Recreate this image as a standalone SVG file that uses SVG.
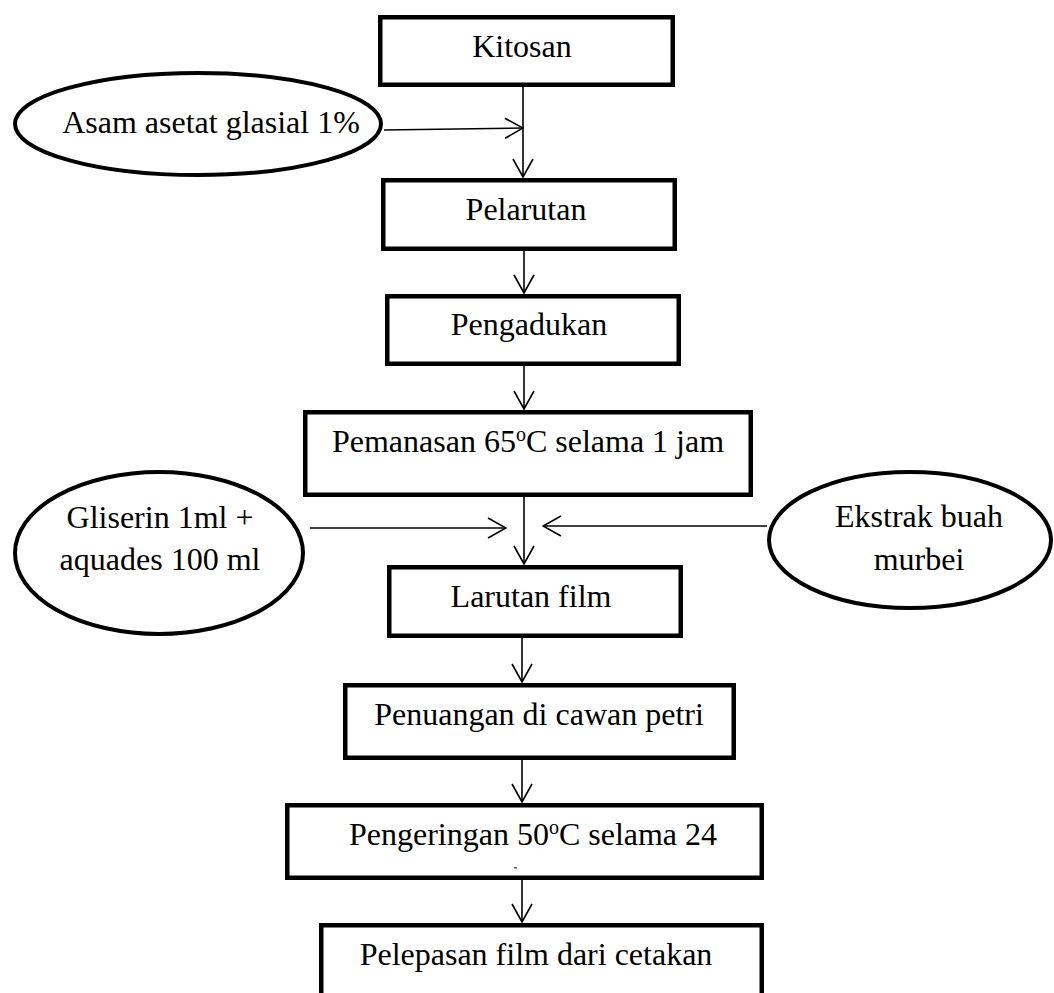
<svg xmlns="http://www.w3.org/2000/svg" width="1054" height="993" viewBox="0 0 1054 993">
<style>
.box{fill:#fff;stroke:#000;stroke-width:4.5}
.ell{fill:#fff;stroke:#000;stroke-width:4}
.t{font-family:"Liberation Serif","Times New Roman",serif;font-size:32px;fill:#000;text-anchor:middle}
.c{fill:none;stroke:#000;stroke-width:1.6}
</style>
<defs>
<marker id="ah" viewBox="0 0 20 22" refX="19" refY="11" markerWidth="20" markerHeight="22" markerUnits="userSpaceOnUse" orient="auto">
<path d="M1,1 L19,11 L1,21" fill="none" stroke="#000" stroke-width="1.6"/>
</marker>
</defs>
<rect width="1054" height="993" fill="#fff"/>
<g id="connectors">
<line class="c" x1="523" y1="87" x2="523" y2="177" marker-end="url(#ah)"/>
<line class="c" x1="384" y1="130" x2="523" y2="128" marker-end="url(#ah)"/>
<line class="c" x1="524" y1="251" x2="524" y2="293" marker-end="url(#ah)"/>
<line class="c" x1="524" y1="366" x2="524" y2="409" marker-end="url(#ah)"/>
<line class="c" x1="524" y1="497" x2="524" y2="564" marker-end="url(#ah)"/>
<line class="c" x1="310" y1="528" x2="506" y2="528" marker-end="url(#ah)"/>
<line class="c" x1="767" y1="526" x2="543" y2="526" marker-end="url(#ah)"/>
<line class="c" x1="522" y1="638" x2="522" y2="682" marker-end="url(#ah)"/>
<line class="c" x1="522" y1="760" x2="522" y2="802" marker-end="url(#ah)"/>
<line class="c" x1="522" y1="880" x2="522" y2="922" marker-end="url(#ah)"/>
</g>
<g id="kitosan">
<rect class="box" x="380.25" y="17.25" width="292.5" height="67.5"/>
<text class="t" x="522" y="57">Kitosan</text>
</g>
<g id="asam">
<ellipse class="ell" cx="198" cy="124" rx="183" ry="51"/>
<text class="t" x="211" y="133">Asam asetat glasial 1%</text>
</g>
<g id="pelarutan">
<rect class="box" x="383.25" y="180.25" width="291.5" height="68.5"/>
<text class="t" x="526" y="220">Pelarutan</text>
</g>
<g id="pengadukan">
<rect class="box" x="387.25" y="296.25" width="291.5" height="67.5"/>
<text class="t" x="529" y="335">Pengadukan</text>
</g>
<g id="pemanasan">
<rect class="box" x="305.25" y="412.25" width="445.5" height="82.5"/>
<text class="t" x="528" y="452">Pemanasan 65<tspan font-size="20" dy="-11">o</tspan><tspan dy="11">C selama 1 jam</tspan></text>
</g>
<g id="gliserin">
<ellipse class="ell" cx="159" cy="553" rx="144" ry="81"/>
<text class="t" x="160" y="528">Gliserin 1ml +</text>
<text class="t" x="160" y="570">aquades 100 ml</text>
</g>
<g id="ekstrak">
<ellipse class="ell" cx="910" cy="540" rx="141" ry="68"/>
<text class="t" x="919" y="527">Ekstrak buah</text>
<text class="t" x="919" y="570">murbei</text>
</g>
<g id="larutan">
<rect class="box" x="389.25" y="567.25" width="291.5" height="68.5"/>
<text class="t" x="531" y="607">Larutan film</text>
</g>
<g id="penuangan">
<rect class="box" x="345.25" y="685.25" width="388.5" height="72.5"/>
<text class="t" x="539" y="725">Penuangan di cawan petri</text>
</g>
<g id="pengeringan">
<rect class="box" x="287.25" y="805.25" width="474.5" height="72.5"/>
<text class="t" x="533" y="845">Pengeringan 50<tspan font-size="20" dy="-11">o</tspan><tspan dy="11">C selama 24</tspan></text>
<rect x="514" y="867" width="3" height="1.5" fill="#555"/>
</g>
<g id="pelepasan">
<rect class="box" x="321.25" y="925.25" width="440.5" height="90"/>
<text class="t" x="536" y="965">Pelepasan film dari cetakan</text>
</g>
</svg>
